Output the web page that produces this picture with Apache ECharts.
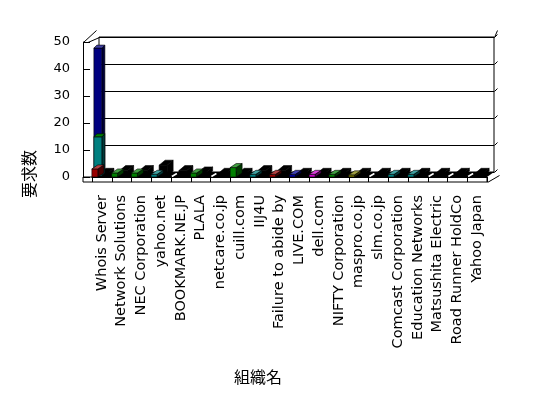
<!DOCTYPE html>
<html>
<head>
<meta charset="utf-8">
<script src="https://cdn.jsdelivr.net/npm/echarts@6/dist/echarts.min.js"></script>
<style>
  html, body { margin: 0; padding: 0; background: #ffffff; }
  #chart { width: 548px; height: 398px; }
</style>
</head>
<body>
<div id="chart"></div>
<script>
// Organisations along the category axis
const categories = [
  'Whois Server', 'Network Solutions', 'NEC Corporation', 'yahoo.net',
  'BOOKMARK.NE.JP', 'PLALA', 'netcare.co.jp', 'cuill.com', 'IIJ4U',
  'Failure to abide by', 'LIVE.COM', 'dell.com', 'NIFTY Corporation',
  'maspro.co.jp', 'slm.co.jp', 'Comcast Corporation', 'Education Networks',
  'Matsushita Electric', 'Road Runner HoldCo', 'Yahoo Japan'
];

// Request counts per series (back row to front row)
const navyValues  = [47, 0, 0, 0, 0, 0, 0, 0, 0, 0, 0, 0, 0, 0, 0, 0, 0, 0, 0, 0];
const tealValues  = [14.5, 0, 0, 0, 0, 0, 0, 0, 0, 0, 0, 0, 0, 0, 0, 0, 0, 0, 0, 0];
const rearValues  = [1, 2, 2, 4, 2, 1.5, 1, 1, 2, 2, 1, 1, 1, 1, 1, 1, 1, 1, 1, 1];
const frontValues = [3, 1.5, 1.5, 1, 0, 1.5, 0, 3.5, 1, 1, 1, 1, 1, 0.8, 0, 1, 1, 0, 0, 0];
const frontColors = [
  '#990000', '#008000', '#008000', '#008080', '#000000', '#008000', '#000000',
  '#008000', '#008080', '#990000', '#000099', '#cc00cc', '#008000', '#808000',
  '#000000', '#008080', '#008080', '#000000', '#000000', '#000000'
];

// Value axis ticks
const yTicks = [0, 10, 20, 30, 40, 50];

const FONT = 'DejaVu Sans';
const BLACK = { color: '#000', width: 1 };

function shade(hex, k) {
  const n = parseInt(hex.slice(1), 16);
  const ch = [(n >> 16) & 255, (n >> 8) & 255, n & 255].map(c =>
    Math.max(0, Math.min(255, Math.round(k >= 0 ? c + (255 - c) * k : c * (1 + k)))));
  return 'rgb(' + ch.join(',') + ')';
}

// A column drawn with a front face, a top face and a right side face
function columnRenderer(colors, geo) {
  return function (params, api) {
    const i = api.value(0), v = api.value(1);
    if (!v) return null;
    const base = api.coord([i, 0]);
    const top = api.coord([i, v]);
    const cx = base[0];
    const x0 = cx + geo.x0 + geo.sx, x1 = cx + geo.x1 + geo.sx;
    const yb = base[1] + geo.sy, yt = top[1] + geo.sy;
    const dx = geo.dx, dy = geo.dy;
    const c = typeof colors === 'string' ? colors : colors[params.dataIndex];
    const edge = { stroke: '#000', lineWidth: 0.6 };
    return {
      type: 'group',
      children: [
        { type: 'polygon', shape: { points: [[x1, yt], [x1 + dx, yt + dy], [x1 + dx, yb + dy], [x1, yb]] },
          style: Object.assign({ fill: shade(c, -0.55) }, edge) },
        { type: 'polygon', shape: { points: [[x0, yt], [x0, yb], [x1, yb], [x1, yt]] },
          style: Object.assign({ fill: c }, edge) },
        { type: 'polygon', shape: { points: [[x0, yt], [x1, yt], [x1 + dx, yt + dy], [x0 + dx, yt + dy]] },
          style: Object.assign({ fill: geo.topColor || shade(c, 0.25) }, edge) }
      ]
    };
  };
}

const chart = echarts.init(document.getElementById('chart'), null, { renderer: 'canvas' });

const idx = categories.map((_, i) => i);
const pairs = vals => idx.map(i => [i, vals[i]]);
const hiddenAxis = g => ({ gridIndex: g, type: 'value', show: false });

chart.setOption({
  animation: false,
  backgroundColor: '#ffffff',
  grid: [
    // front plane, where the columns stand
    { left: 92, right: 61, top: 42, bottom: 221 },
    // back wall
    { left: 99, right: 54, top: 37, bottom: 226, show: true, borderColor: '#000', borderWidth: 1,
      backgroundColor: 'transparent' },
    // front face of the floor slab
    { left: 83, right: 61, top: 177, height: 5, show: true, borderColor: '#000', borderWidth: 1,
      backgroundColor: 'transparent' },
    // front edge of the left wall
    { left: 83, width: 9, top: 42, bottom: 221 }
  ],
  xAxis: [
    {
      gridIndex: 0, type: 'category', data: categories, boundaryGap: true,
      axisLine: { show: true, lineStyle: BLACK },
      axisTick: { show: true, length: 5, lineStyle: BLACK },
      axisLabel: { interval: 0, rotate: 90, margin: 18, color: '#000', fontFamily: FONT, fontSize: 14.5 }
    },
    // top rim of the box
    {
      gridIndex: 1, type: 'value', position: 'top', offset: 7,
      axisLine: { show: true, lineStyle: BLACK },
      axisTick: { show: false }, axisLabel: { show: false }, splitLine: { show: false }
    },
    hiddenAxis(2),
    hiddenAxis(3)
  ],
  yAxis: [
    {
      gridIndex: 0, type: 'value', min: 0, max: 50, interval: 10,
      axisLine: { show: false }, axisTick: { show: false }, splitLine: { show: false },
      axisLabel: { margin: 22, color: '#000', fontFamily: FONT, fontSize: 13 }
    },
    {
      gridIndex: 1, type: 'value', min: 0, max: 50, interval: 10,
      axisLine: { show: false }, axisTick: { show: false }, axisLabel: { show: false },
      splitLine: { show: true, lineStyle: BLACK }
    },
    hiddenAxis(2),
    {
      gridIndex: 3, type: 'value', min: 0, max: 50, interval: 10,
      axisLine: { show: true, lineStyle: BLACK },
      axisTick: { show: true, inside: true, length: 7, lineStyle: BLACK },
      axisLabel: { show: false }, splitLine: { show: false }
    }
  ],
  series: [
    { type: 'custom', z: 2, clip: false, data: pairs(navyValues),
      renderItem: columnRenderer('#000080', { x0: -9, x1: -1, sx: 1, sy: -2, dx: 3, dy: -3 }) },
    { type: 'custom', z: 3, clip: false, data: pairs(rearValues),
      renderItem: columnRenderer('#000000', { x0: -3, x1: 5, sx: 1, sy: -1, dx: 6, dy: -5, topColor: '#000' }) },
    { type: 'custom', z: 4, clip: false, data: pairs(tealValues),
      renderItem: columnRenderer('#008080', { x0: -8, x1: 0, sx: 0, sy: -1, dx: 3, dy: -3, topColor: '#008000' }) },
    { type: 'custom', z: 5, clip: false, data: pairs(frontValues),
      renderItem: columnRenderer(frontColors, { x0: -10, x1: -4, sx: 0, sy: 0, dx: 6, dy: -4 }) }
  ]
});

// Floor and the slanted edges of the box, placed from the front axes
const toPx = (c, v) => chart.convertToPixel({ gridIndex: 0 }, [c, v]);
const BW = toPx(1, 0)[0] - toPx(0, 0)[0];
const L = Math.round(toPx(0, 0)[0] - BW / 2);
const R = Math.round(toPx(categories.length - 1, 0)[0] + BW / 2);
const T = Math.round(toPx(0, 50)[1]);
const B = Math.round(toPx(0, 0)[1]);
const DX = 7, DY = -5;           // depth of the box
const OX = L - 9;                // outer face of the left wall
const RIM = T + DY - 7;          // outer top rim

const frame = [];
function slant(x1, y1, x2, y2, color, width) {
  frame.push({ type: 'line', silent: true, shape: { x1, y1, x2, y2 },
    style: { stroke: color || '#000', lineWidth: width || 1 } });
}

frame.push({ type: 'polygon', silent: true,
  shape: { points: [[L, B], [R, B], [R + DX, B + DY], [L + DX, B + DY]] }, style: { fill: '#000' } });
yTicks.forEach(t => {
  const y = Math.round(toPx(0, t)[1]) + 0.5;
  slant(R + DX + 0.5, y + DY, R + DX + 3.5, y + DY - 3);
});
slant(OX + 0.5, T + 0.5, OX + 13.5, RIM + 0.5);
slant(R + DX + 3.5, RIM + 0.5, R + DX + 0.5, T + DY + 0.5);
slant(L - 4, T + 0.5, L + DX + 0.5, T + DY + 0.5);
slant(R + 0.5, B + 5.5, R + 12.5, B - 1.5);
idx.forEach(i => {
  const cx = toPx(i, 0)[0];
  slant(cx - 9, B - 0.5, cx - 4, B - 3.5, '#ffffff', 1.5);
});

chart.setOption({
  graphic: [
    { type: 'group', z: 0, silent: true, children: frame },
    { type: 'text', x: 29, y: 174, rotation: Math.PI / 2,
      style: { text: '要求数', font: '16px "Noto Sans CJK JP"', fill: '#000', align: 'center', verticalAlign: 'middle' } },
    { type: 'text', x: 258, y: 377,
      style: { text: '組織名', font: '16px "Noto Sans CJK JP"', fill: '#000', align: 'center', verticalAlign: 'middle' } }
  ]
});
</script>
</body>
</html>
